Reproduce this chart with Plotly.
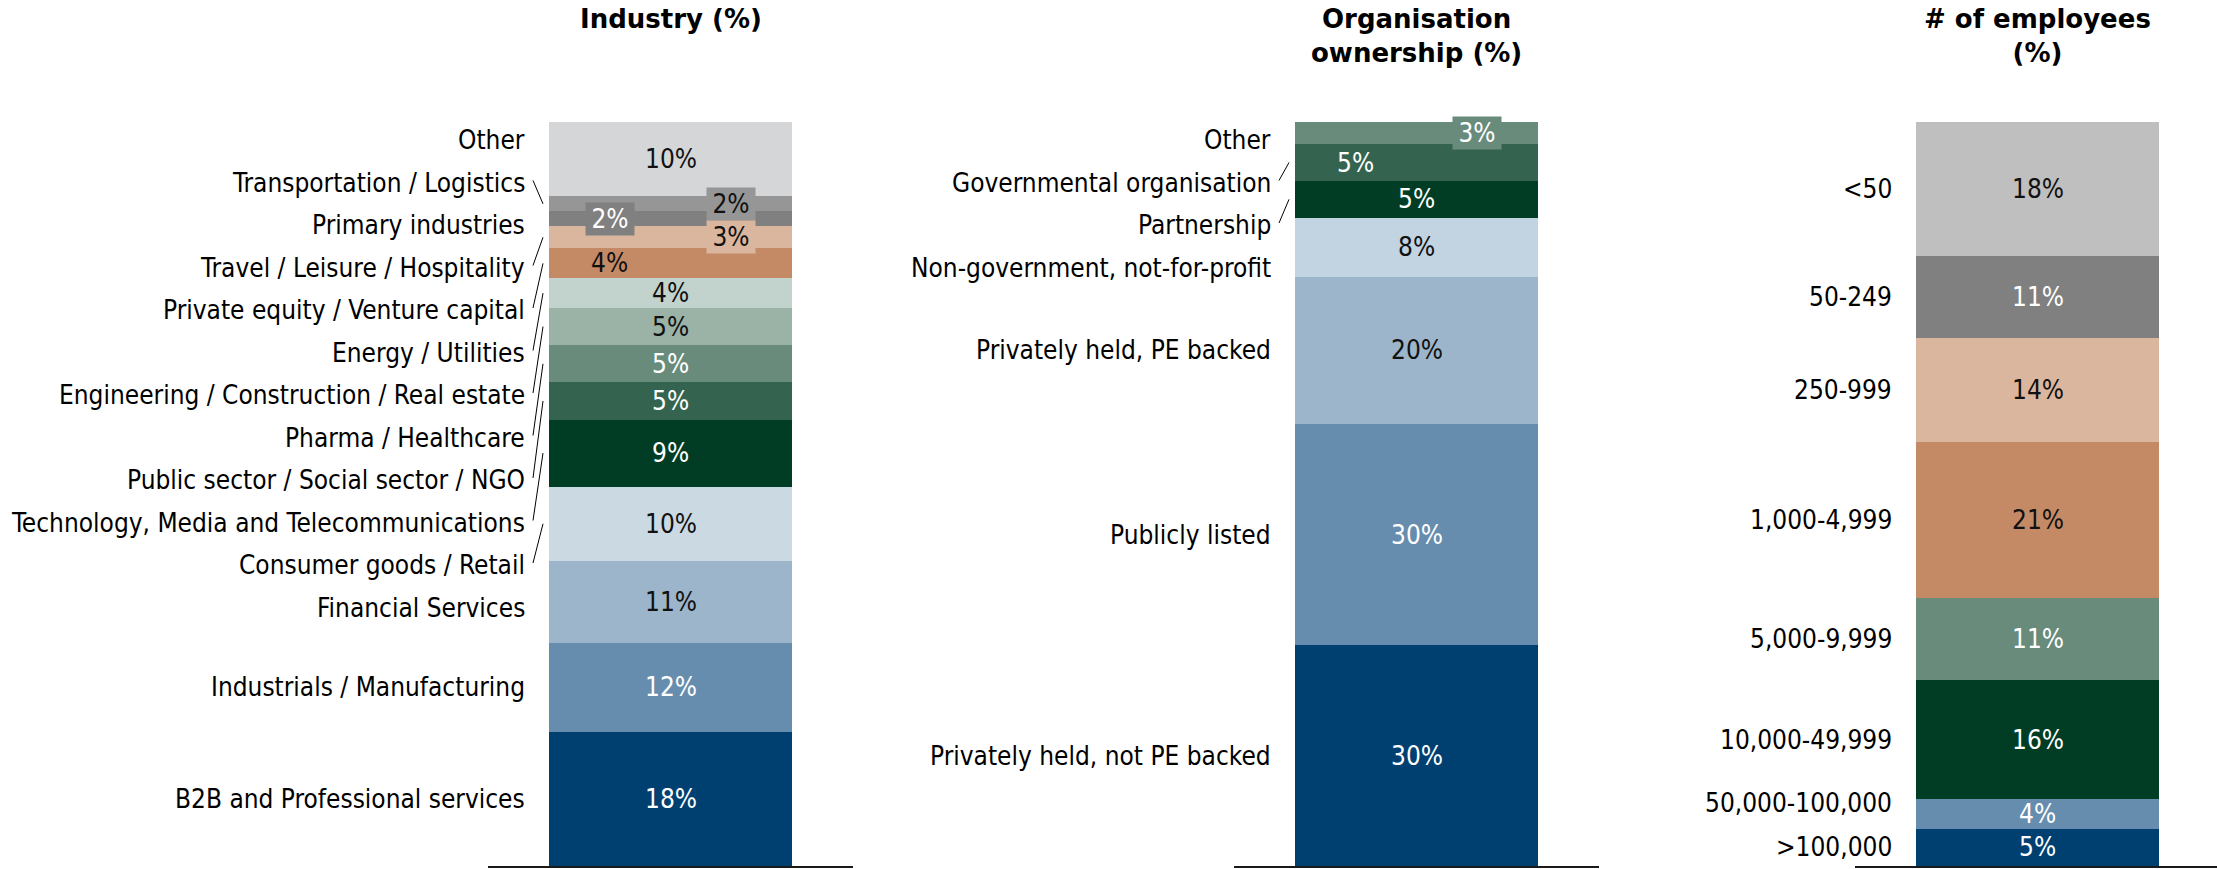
import plotly.graph_objects as go

# ---------------- data (listed top to bottom as stacked) ----------------
industry_cats = [
    "Other",
    "Transportation / Logistics",
    "Primary industries",
    "Travel / Leisure / Hospitality",
    "Private equity / Venture capital",
    "Energy / Utilities",
    "Engineering / Construction / Real estate",
    "Pharma / Healthcare",
    "Public sector / Social sector / NGO",
    "Technology, Media and Telecommunications",
    "Consumer goods / Retail",
    "Financial Services",
    "Industrials / Manufacturing",
    "B2B and Professional services",
]
industry_vals = [10, 2, 2, 3, 4, 4, 5, 5, 5, 9, 10, 11, 12, 18]

ownership_cats = [
    "Other",
    "Governmental organisation",
    "Partnership",
    "Non-government, not-for-profit",
    "Privately held, PE backed",
    "Publicly listed",
    "Privately held, not PE backed",
]
ownership_vals = [3, 5, 5, 8, 20, 30, 30]

employee_cats = [
    "<50",
    "50-249",
    "250-999",
    "1,000-4,999",
    "5,000-9,999",
    "10,000-49,999",
    "50,000-100,000",
    ">100,000",
]
employee_vals = [18, 11, 14, 21, 11, 16, 4, 5]

# ---------------- styling ----------------
DARK, LIGHT = "#111111", "#ffffff"

industry_colors = ["#d5d6d8", "#969696", "#808080", "#dbb69f", "#c48a66", "#c1d3cc",
                   "#9ab3a6", "#688b7b", "#34644f", "#003d24", "#cbd9e3", "#9cb5ca",
                   "#678dae", "#004071"]
industry_txt = [DARK, DARK, LIGHT, DARK, DARK, DARK, DARK, LIGHT, LIGHT, LIGHT, DARK, DARK,
                LIGHT, LIGHT]

ownership_colors = ["#688b7b", "#34644f", "#003d24", "#c2d3e1", "#9cb5ca", "#678dae", "#004071"]
ownership_txt = [LIGHT, LIGHT, LIGHT, DARK, DARK, LIGHT, LIGHT]

employee_colors = ["#bfbfbf", "#808080", "#dbb69f", "#c48a66", "#688b7b", "#003d24",
                   "#678dae", "#004071"]
employee_txt = [DARK, LIGHT, DARK, DARK, LIGHT, LIGHT, LIGHT, LIGHT]

W, H = 2217, 869
Y_TOP, Y_BOT = 122, 866          # plot area of the stacked bars (px)
BAR_W = 243                      # bar width (px)
PAD = 61                         # baseline overhang each side (px)
LIST_TOP, LIST_PITCH = 140, 42.5 # evenly spaced label column (px)
FONT = "DejaVu Sans Condensed, Noto Sans, sans-serif"
FS = 26

panels = [
    dict(title="<b>Industry (%)</b>", cats=industry_cats, vals=industry_vals,
         colors=industry_colors, txt=industry_txt, left=549, list_n=12,
         place={1: ("r", True), 2: ("l", True), 3: ("r", True), 4: ("l", False)},
         shift={}),
    dict(title="<b>Organisation<br>ownership (%)</b>", cats=ownership_cats, vals=ownership_vals,
         colors=ownership_colors, txt=ownership_txt, left=1295, list_n=4,
         place={0: ("r", True), 1: ("l", False)},
         shift={}),
    dict(title="<b># of employees<br>(%)</b>", cats=employee_cats, vals=employee_vals,
         colors=employee_colors, txt=employee_txt, left=1916, list_n=0,
         place={},
         shift={6: 11}),
]

fig = go.Figure()
annotations, shapes = [], []
layout = {}

for i, p in enumerate(panels, start=1):
    xa = "x" if i == 1 else f"x{i}"
    ya = "y" if i == 1 else f"y{i}"
    vals, cats = p["vals"], p["cats"]
    total = sum(vals)
    n = len(vals)

    # stack from the bottom up
    for j in reversed(range(n)):
        fig.add_trace(go.Bar(
            x=[0], y=[vals[j]], width=1, name=cats[j],
            marker=dict(color=p["colors"][j], line=dict(width=0)),
            xaxis=xa, yaxis=ya, showlegend=False, hoverinfo="skip",
        ))

    left = p["left"]
    right_px = min(left + BAR_W + PAD, W)
    layout["xaxis" if i == 1 else f"xaxis{i}"] = dict(
        domain=[(left - PAD) / W, right_px / W],
        range=[-0.5 - PAD / BAR_W, -0.5 + (right_px - left) / BAR_W],
        showline=True, linecolor="#1a1a1a", linewidth=2, showticklabels=False,
        ticks="", showgrid=False, zeroline=False, fixedrange=True, anchor=ya,
    )
    layout["yaxis" if i == 1 else f"yaxis{i}"] = dict(
        domain=[1 - Y_BOT / H, 1 - Y_TOP / H], range=[0, total], visible=False,
        fixedrange=True, anchor=xa,
    )

    # panel heading
    annotations.append(dict(
        text=p["title"], x=(left + BAR_W / 2) / W, y=1, xref="paper", yref="paper",
        xanchor="center", yanchor="top", showarrow=False, align="center", yshift=-2,
        font=dict(family="DejaVu Sans, sans-serif", size=26, color="#000000"),
    ))

    def px_to_val(py):
        return total * (Y_BOT - py) / (Y_BOT - Y_TOP)

    for j in range(n):
        base = sum(vals[j + 1:])
        top = base + vals[j]
        center = base + vals[j] / 2

        # value label
        side, boxed = p["place"].get(j, ("c", False))
        xv = {"c": 0, "l": -0.25, "r": 0.25}[side]
        ann = dict(
            text=f"{vals[j]}%", x=xv, y=center, xref=xa, yref=ya,
            xanchor="center", yanchor="middle", showarrow=False,
            font=dict(family=FONT, size=FS, color=p["txt"][j]),
        )
        if boxed:
            ann.update(bgcolor=p["colors"][j], width=48, height=32, borderpad=0)
        annotations.append(ann)

        # category label
        if j < p["list_n"]:
            label_val = px_to_val(LIST_TOP + j * LIST_PITCH)
        else:
            label_val = center
        annotations.append(dict(
            text=cats[j], x=(left - 22) / W, y=label_val, xref="paper", yref=ya,
            xanchor="right", yanchor="middle", showarrow=False,
            yshift=p["shift"].get(j, 0),
            font=dict(family=FONT, size=FS, color="#000000"),
        ))

        # leader line when the label sits outside its segment
        if not (base <= label_val <= top):
            shapes.append(dict(
                type="line", xref="paper", yref=ya,
                x0=(left - 16) / W, y0=label_val + 2 * total / (Y_BOT - Y_TOP),
                x1=(left - 6) / W, y1=center,
                line=dict(color="#000000", width=1),
            ))

fig.update_layout(
    width=W, height=H, margin=dict(l=0, r=0, t=0, b=0),
    paper_bgcolor="#ffffff", plot_bgcolor="#ffffff",
    barmode="stack", bargap=0,
    annotations=annotations, shapes=shapes,
    **layout,
)

fig.write_html("out.html", config={"displayModeBar": False})
